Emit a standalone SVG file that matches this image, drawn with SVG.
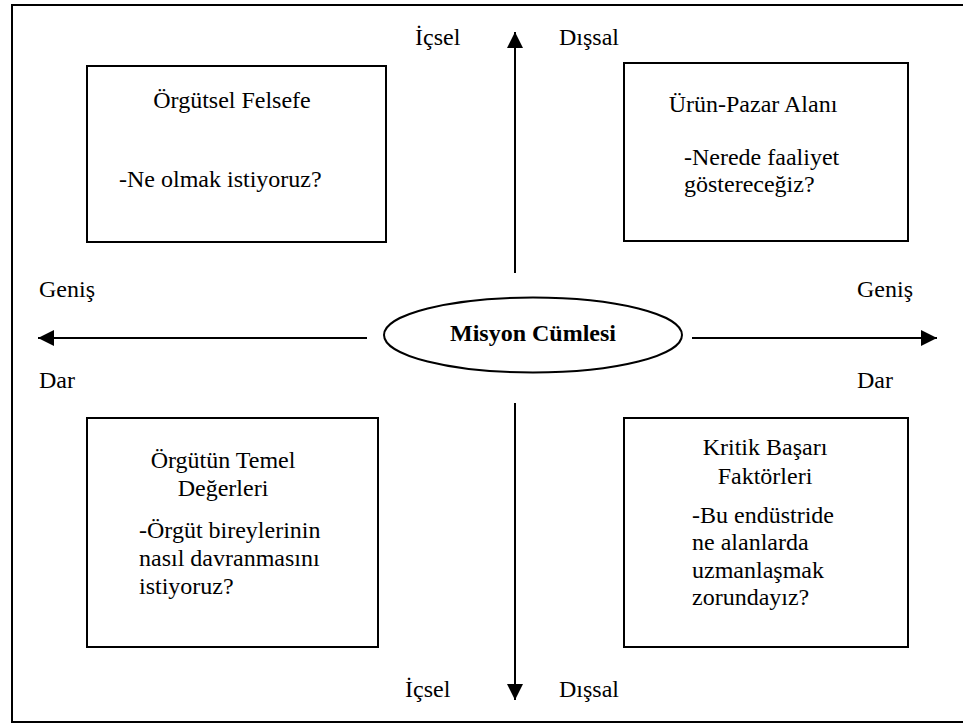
<svg xmlns="http://www.w3.org/2000/svg" width="963" height="723" viewBox="0 0 963 723">
  <style>
    text { font-family: 'Liberation Serif', 'Times New Roman', Tinos, Times, 'DejaVu Serif', serif; font-size: 24px; fill: #000; }
    .c { text-anchor: middle; }
    .b { font-weight: bold; }
    .box { fill: #fff; stroke: #000; stroke-width: 2; }
    .ax { stroke: #000; stroke-width: 2; fill: none; }
  </style>
  <defs>
    <marker id="ah" viewBox="0 0 16 16" refX="16" refY="8" markerWidth="16" markerHeight="16" markerUnits="userSpaceOnUse" orient="auto">
      <path d="M0,0 L16,8 L0,16 Z" fill="#000"/>
    </marker>
  </defs>
  <rect x="12" y="5" width="970" height="717" fill="#fff" stroke="#000" stroke-width="2"/>

  <g id="connectors">
    <line class="ax" x1="515" y1="273" x2="515" y2="32" marker-end="url(#ah)"/>
    <line class="ax" x1="515" y1="403" x2="515" y2="700" marker-end="url(#ah)"/>
    <line class="ax" x1="367" y1="338" x2="38" y2="338" marker-end="url(#ah)"/>
    <line class="ax" x1="692" y1="338" x2="937" y2="338" marker-end="url(#ah)"/>
  </g>

  <g id="axis-labels">
    <text x="415" y="45">İçsel</text>
    <text x="559" y="45">Dışsal</text>
    <text x="39" y="297">Geniş</text>
    <text x="857" y="297">Geniş</text>
    <text x="39" y="388">Dar</text>
    <text x="857" y="388">Dar</text>
    <text x="405" y="697">İçsel</text>
    <text x="559" y="697">Dışsal</text>
  </g>

  <g id="center">
    <ellipse cx="533" cy="335" rx="149" ry="37.5" fill="#fff" stroke="#000" stroke-width="2"/>
    <text class="c b" x="533" y="341">Misyon Cümlesi</text>
  </g>

  <g id="orgutsel-felsefe">
    <rect class="box" x="87" y="66" width="299" height="176"/>
    <text class="c" x="232" y="108">Örgütsel Felsefe</text>
    <text x="119" y="187">-Ne olmak istiyoruz?</text>
  </g>

  <g id="urun-pazar">
    <rect class="box" x="624" y="63" width="284" height="178"/>
    <text class="c" x="753" y="112">Ürün-Pazar Alanı</text>
    <text x="684" y="165">-Nerede faaliyet</text>
    <text x="684" y="192">göstereceğiz?</text>
  </g>

  <g id="temel-degerler">
    <rect class="box" x="87" y="418" width="291" height="229"/>
    <text class="c" x="223" y="468">Örgütün Temel</text>
    <text class="c" x="223" y="496">Değerleri</text>
    <text x="139" y="538">-Örgüt bireylerinin</text>
    <text x="139" y="566">nasıl davranmasını</text>
    <text x="139" y="594">istiyoruz?</text>
  </g>

  <g id="kritik-basari">
    <rect class="box" x="624" y="418" width="284" height="229"/>
    <text class="c" x="765" y="455">Kritik Başarı</text>
    <text class="c" x="765" y="484">Faktörleri</text>
    <text x="692" y="523">-Bu endüstride</text>
    <text x="692" y="550">ne alanlarda</text>
    <text x="692" y="578">uzmanlaşmak</text>
    <text x="692" y="605">zorundayız?</text>
  </g>
</svg>
